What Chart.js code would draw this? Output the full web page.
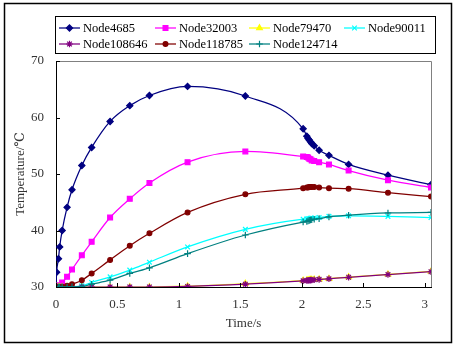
<!DOCTYPE html>
<html lang="en">
<head>
    <meta charset="UTF-8">
    <title>Node Temperature vs Time</title>
    <script src="https://cdn.jsdelivr.net/npm/chart.js@4.4.0/dist/chart.umd.min.js"></script>
    <style>
        body { margin: 0; background: #fff; }
        canvas { display: block; }
    </style>
</head>
<body>
    <canvas id="tempChart" width="455" height="345"></canvas>

    <script>
        // time steps (s)
        const times = [0, 0.005, 0.02, 0.03, 0.05, 0.09, 0.13, 0.21, 0.29, 0.44, 0.60, 0.76, 1.07, 1.54, 2.01,
            2.04, 2.05, 2.06, 2.07, 2.08, 2.10, 2.14, 2.22, 2.38, 2.70, 3.05];

        // temperatures (deg C) per node
        const node4685 = [30, 32.6, 35.0, 37.1, 40.0, 44.1, 47.2, 51.5, 54.7, 59.3, 62.1, 63.9, 65.5, 63.8, 58.0,
            56.7, 56.3, 56.0, 55.7, 55.4, 55.0, 54.2, 53.3, 51.7, 49.8, 48.1];
        const node32003 = [30, 30, 30.1, 30.3, 30.8, 31.8, 33.1, 35.6, 38.0, 42.3, 45.6, 48.4, 52.1, 54.0, 53.1,
            53.0, 52.9, 52.7, 52.6, 52.4, 52.3, 52.1, 51.7, 50.6, 48.9, 47.6];
        const node79470 = [30, 30, 30, 30, 30, 30, 30, 30, 30, 30, 30, 30, 30.15, 30.6, 31.15,
            31.2, 31.22, 31.25, 31.27, 31.3, 31.32, 31.38, 31.48, 31.75, 32.25, 32.75];
        const node90011 = [30, 30, 30, 30, 30, 30.02, 30.05, 30.2, 30.8, 31.8, 33.0, 34.4, 37.1, 40.2, 42.0,
            42.05, 42.1, 42.1, 42.15, 42.2, 42.2, 42.3, 42.5, 42.6, 42.5, 42.3];
        const node108646 = [30, 30, 30, 30, 30, 30, 30, 30, 30, 30, 30, 30, 30.1, 30.5, 31.1,
            31.15, 31.18, 31.2, 31.22, 31.25, 31.28, 31.35, 31.45, 31.72, 32.2, 32.7];
        const node118785 = [30, 30, 30, 30, 30.05, 30.2, 30.5, 31.2, 32.4, 34.8, 37.3, 39.5, 43.2, 46.4, 47.5,
            47.6, 47.6, 47.7, 47.7, 47.7, 47.7, 47.6, 47.5, 47.4, 46.7, 46.0];
        const node124714 = [30, 30, 30, 30, 30, 30, 30.02, 30.1, 30.5, 31.2, 32.4, 33.4, 35.9, 39.2, 41.5,
            41.6, 41.7, 41.8, 41.85, 41.9, 42.0, 42.1, 42.4, 42.7, 43.1, 43.2];

        const seriesNames = ['Node4685', 'Node32003', 'Node79470', 'Node90011', 'Node108646', 'Node118785', 'Node124714'];
        const seriesValues = [node4685, node32003, node79470, node90011, node108646, node118785, node124714];
        const seriesColors = ['#000080', '#FF00FF', '#FFFF00', '#00FFFF', '#800080', '#800000', '#008080'];
        const seriesMarkers = ['rectRot', 'rect', 'triangle', 'crossRot', 'star', 'circle', 'cross'];
        const markerSizes = [3.1, 3.4, 3.3, 3.3, 3.3, 2.4, 3.3];

        const yTicks = [30, 40, 50, 60, 70];
        const xTicks = [0, 0.5, 1, 1.5, 2, 2.5, 3];

        const FONT = '"Liberation Serif", "DejaVu Serif", serif';

        const datasets = seriesNames.map((name, i) => ({
            label: name,
            data: times.map((t, k) => ({ x: t, y: seriesValues[i][k] })),
            borderColor: seriesColors[i],
            backgroundColor: seriesColors[i],
            borderWidth: 1.25,
            pointStyle: seriesMarkers[i],
            pointRadius: markerSizes[i],
            pointBorderWidth: 1.2,
            pointHoverRadius: markerSizes[i],
            showLine: true,
            fill: false,
            cubicInterpolationMode: 'monotone',
            order: -i // later series drawn on top, like the original
        }));

        // outer frame, plot border, inside tick marks and the boxed legend
        const decorations = {
            id: 'decorations',
            beforeDraw(chart) {
                const ctx = chart.ctx;
                ctx.save();
                ctx.fillStyle = '#fff';
                ctx.fillRect(0, 0, chart.width, chart.height);
                ctx.restore();
            },
            afterDraw(chart) {
                const ctx = chart.ctx;
                const a = chart.chartArea;
                const xs = chart.scales.x, ys = chart.scales.y;
                ctx.save();

                // gray top/right plot border
                ctx.strokeStyle = '#808080';
                ctx.lineWidth = 1;
                ctx.beginPath();
                ctx.moveTo(a.left, a.top + 0.5);
                ctx.lineTo(a.right + 0.5, a.top + 0.5);
                ctx.lineTo(a.right + 0.5, a.bottom);
                ctx.stroke();

                // tick marks pointing into the plot
                ctx.strokeStyle = '#000';
                ctx.beginPath();
                yTicks.forEach(v => {
                    const py = Math.round(ys.getPixelForValue(v)) + 0.5;
                    ctx.moveTo(a.left, py);
                    ctx.lineTo(a.left + 4, py);
                });
                xTicks.forEach(v => {
                    const px = Math.round(xs.getPixelForValue(v)) + 0.5;
                    ctx.moveTo(px, a.bottom);
                    ctx.lineTo(px, a.bottom - 4);
                });
                ctx.stroke();

                // legend box
                ctx.strokeStyle = '#000';
                ctx.lineWidth = 1;
                ctx.strokeRect(55.5, 16.5, 380, 37);
                const colX = [59, 155, 249, 344];
                const rowY = [28, 44];
                ctx.font = '12.5px ' + FONT;
                ctx.textBaseline = 'middle';
                ctx.textAlign = 'left';
                chart.data.datasets.forEach((ds, i) => {
                    const x = colX[i % 4];
                    const y = rowY[Math.floor(i / 4)];
                    ctx.strokeStyle = ds.borderColor;
                    ctx.fillStyle = ds.backgroundColor;
                    ctx.lineWidth = 1.25;
                    ctx.beginPath();
                    ctx.moveTo(x, y);
                    ctx.lineTo(x + 21, y);
                    ctx.stroke();
                    ctx.lineWidth = 1.2;
                    if (Chart.helpers && Chart.helpers.drawPoint) {
                        Chart.helpers.drawPoint(ctx, {
                            pointStyle: ds.pointStyle,
                            radius: ds.pointRadius,
                            rotation: 0,
                            borderWidth: 1.2
                        }, x + 10.5, y);
                    }
                    ctx.fillStyle = '#000';
                    ctx.fillText(ds.label, x + 24, y + 1);
                });

                // outer frame
                ctx.strokeStyle = '#000';
                ctx.lineWidth = 1.5;
                ctx.strokeRect(4.5, 3.5, 447, 339);
                ctx.restore();
            }
        };

        const ctx = document.getElementById('tempChart').getContext('2d');
        const tempChart = new Chart(ctx, {
            type: 'scatter',
            data: { datasets: datasets },
            plugins: [decorations],
            options: {
                responsive: false,
                animation: false,
                layout: {
                    padding: { top: 61, right: 24, bottom: 0, left: 0 }
                },
                plugins: {
                    legend: { display: false },
                    tooltip: { enabled: false }
                },
                scales: {
                    x: {
                        type: 'linear',
                        position: 'bottom',
                        min: 0,
                        max: 3.05,
                        afterFit: s => { s.height = 58; },
                        ticks: {
                            stepSize: 0.5,
                            includeBounds: false,
                            padding: 10,
                            color: '#333',
                            font: { family: FONT, size: 13 },
                            callback: v => String(v)
                        },
                        grid: { display: false, drawTicks: false },
                        border: { display: true, color: '#000', width: 1 },
                        title: {
                            display: true,
                            text: 'Time/s',
                            color: '#333',
                            font: { family: FONT, size: 13 },
                            padding: { top: 0, bottom: 14 }
                        }
                    },
                    y: {
                        min: 30,
                        max: 70,
                        afterFit: s => { s.width = 56; },
                        ticks: {
                            stepSize: 10,
                            padding: 12,
                            color: '#333',
                            font: { family: FONT, size: 13 }
                        },
                        grid: { display: false, drawTicks: false },
                        border: { display: true, color: '#000', width: 1 },
                        title: {
                            display: true,
                            text: 'Temperature/℃',
                            color: '#333',
                            font: { family: FONT, size: 13 },
                            padding: { top: 13, bottom: 0 }
                        }
                    }
                }
            }
        });
    </script>
</body>
</html>
